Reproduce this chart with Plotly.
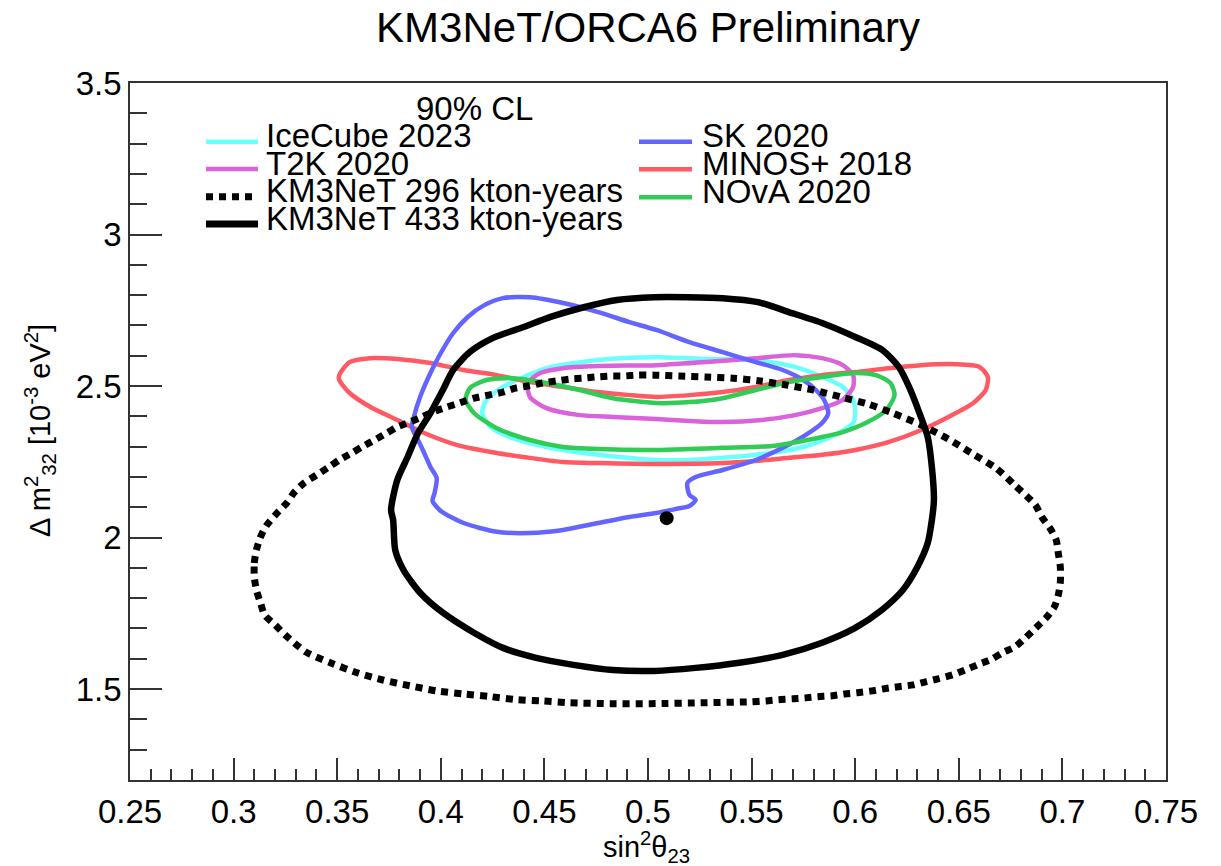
import plotly.graph_objects as go

# ---------------- data (sin^2 theta23, Delta m^2_32 [1e-3 eV^2]) ----------------
icecube_x = [0.420, 0.422, 0.430, 0.440, 0.451, 0.476, 0.504, 0.528, 0.552, 0.571, 0.584, 0.594, 0.599, 0.600,
             0.599, 0.592, 0.581, 0.568, 0.552, 0.536, 0.520, 0.504, 0.476, 0.451, 0.433, 0.424, 0.420]
icecube_y = [2.411, 2.454, 2.497, 2.530, 2.559, 2.586, 2.595, 2.589, 2.586, 2.563, 2.530, 2.497, 2.454, 2.411,
             2.378, 2.345, 2.312, 2.289, 2.273, 2.263, 2.256, 2.256, 2.273, 2.299, 2.332, 2.365, 2.411]

t2k_x = [0.442, 0.448, 0.459, 0.476, 0.504, 0.528, 0.552, 0.571, 0.584, 0.594, 0.599, 0.599, 0.594, 0.584,
         0.571, 0.555, 0.536, 0.520, 0.504, 0.483, 0.467, 0.451, 0.443, 0.442]
t2k_y = [2.510, 2.543, 2.559, 2.566, 2.569, 2.579, 2.592, 2.602, 2.592, 2.569, 2.536, 2.497, 2.454, 2.427,
         2.404, 2.388, 2.381, 2.385, 2.391, 2.398, 2.404, 2.427, 2.464, 2.510]

sk_x = [0.430, 0.443, 0.459, 0.476, 0.491, 0.504, 0.520, 0.536, 0.552, 0.565, 0.575, 0.581, 0.585, 0.587,
        0.584, 0.576, 0.565, 0.552, 0.536, 0.523, 0.519, 0.520, 0.523, 0.520, 0.513, 0.504, 0.491, 0.476,
        0.459, 0.443, 0.427, 0.411, 0.400, 0.396, 0.397, 0.398, 0.395, 0.392, 0.389, 0.386, 0.387, 0.390,
        0.395, 0.400, 0.406, 0.413, 0.421, 0.430]
sk_y = [2.790, 2.793, 2.774, 2.744, 2.711, 2.685, 2.645, 2.612, 2.579, 2.553, 2.520, 2.487, 2.454, 2.411,
        2.378, 2.338, 2.296, 2.256, 2.223, 2.200, 2.180, 2.141, 2.124, 2.104, 2.094, 2.081, 2.068, 2.048,
        2.025, 2.015, 2.019, 2.048, 2.088, 2.121, 2.147, 2.197, 2.233, 2.279, 2.322, 2.365, 2.398, 2.464,
        2.543, 2.609, 2.675, 2.728, 2.767, 2.790]

minos_x = [0.351, 0.356, 0.366, 0.379, 0.395, 0.411, 0.427, 0.443, 0.459, 0.476, 0.491, 0.504, 0.520, 0.536,
           0.552, 0.568, 0.584, 0.600, 0.616, 0.632, 0.648, 0.660, 0.664, 0.663, 0.657, 0.645, 0.632, 0.616,
           0.600, 0.584, 0.568, 0.552, 0.536, 0.504, 0.476, 0.459, 0.443, 0.427, 0.408, 0.392, 0.379, 0.366,
           0.356, 0.351, 0.351]
minos_y = [2.536, 2.579, 2.592, 2.589, 2.576, 2.553, 2.536, 2.513, 2.497, 2.480, 2.470, 2.464, 2.470, 2.480,
           2.497, 2.520, 2.536, 2.546, 2.559, 2.569, 2.572, 2.563, 2.530, 2.487, 2.444, 2.398, 2.355, 2.315,
           2.289, 2.273, 2.263, 2.253, 2.246, 2.243, 2.246, 2.249, 2.263, 2.279, 2.305, 2.345, 2.388, 2.431,
           2.477, 2.520, 2.536]

nova_x = [0.412, 0.414, 0.422, 0.435, 0.451, 0.467, 0.483, 0.504, 0.520, 0.536, 0.552, 0.568, 0.584, 0.600,
          0.610, 0.617, 0.619, 0.615, 0.606, 0.594, 0.577, 0.560, 0.536, 0.520, 0.504, 0.476, 0.459, 0.443,
          0.427, 0.416, 0.412]
nova_y = [2.454, 2.493, 2.520, 2.526, 2.510, 2.487, 2.460, 2.444, 2.447, 2.460, 2.487, 2.513, 2.530, 2.543,
          2.536, 2.510, 2.470, 2.421, 2.381, 2.348, 2.322, 2.302, 2.296, 2.292, 2.289, 2.292, 2.299, 2.322,
          2.361, 2.411, 2.454]

km3_296_x = [0.310, 0.310, 0.311, 0.313, 0.316, 0.321, 0.326, 0.329, 0.334, 0.340, 0.346, 0.351, 0.357, 0.362,
             0.368, 0.374, 0.379, 0.385, 0.391, 0.396, 0.403, 0.409, 0.416, 0.423, 0.430, 0.436, 0.442, 0.449,
             0.456, 0.462, 0.469, 0.475, 0.482, 0.488, 0.495, 0.503, 0.515, 0.528, 0.541, 0.554, 0.567, 0.580,
             0.593, 0.606, 0.618, 0.632, 0.645, 0.656, 0.668, 0.677, 0.687, 0.690, 0.694, 0.697, 0.698, 0.699,
             0.699, 0.698, 0.696, 0.692, 0.687, 0.682, 0.677, 0.671, 0.666, 0.659, 0.653, 0.647, 0.640, 0.634,
             0.628, 0.621, 0.614, 0.608, 0.601, 0.595, 0.589, 0.582, 0.576, 0.570, 0.563, 0.557, 0.550, 0.528,
             0.501, 0.482, 0.462, 0.449, 0.437, 0.424, 0.411, 0.398, 0.385, 0.372, 0.360, 0.347, 0.335, 0.325,
             0.320, 0.315, 0.313, 0.311, 0.310]
km3_296_y = [1.870, 1.916, 1.959, 2.002, 2.041, 2.081, 2.117, 2.147, 2.180, 2.206, 2.233, 2.256, 2.279, 2.299,
             2.322, 2.345, 2.365, 2.381, 2.398, 2.414, 2.431, 2.444, 2.460, 2.470, 2.480, 2.493, 2.500, 2.510,
             2.517, 2.523, 2.526, 2.530, 2.533, 2.533, 2.536, 2.536, 2.533, 2.530, 2.526, 2.517, 2.503, 2.487,
             2.464, 2.441, 2.411, 2.371, 2.325, 2.279, 2.229, 2.173, 2.107, 2.068, 2.031, 1.992, 1.949, 1.903,
             1.853, 1.810, 1.770, 1.734, 1.701, 1.668, 1.639, 1.620, 1.599, 1.580, 1.563, 1.547, 1.534, 1.524,
             1.514, 1.508, 1.501, 1.494, 1.488, 1.484, 1.478, 1.475, 1.471, 1.468, 1.465, 1.461, 1.458, 1.455,
             1.452, 1.452, 1.455, 1.461, 1.465, 1.475, 1.484, 1.494, 1.511, 1.530, 1.553, 1.586, 1.622, 1.678,
             1.712, 1.744, 1.784, 1.827, 1.870]

km3_433_x = [0.377, 0.376, 0.379, 0.384, 0.389, 0.395, 0.401, 0.406, 0.414, 0.425, 0.440, 0.453, 0.469, 0.485,
             0.503, 0.519, 0.536, 0.553, 0.568, 0.584, 0.600, 0.613, 0.621, 0.626, 0.631, 0.635, 0.637, 0.638,
             0.637, 0.635, 0.630, 0.623, 0.613, 0.600, 0.584, 0.565, 0.544, 0.523, 0.503, 0.483, 0.464, 0.446,
             0.430, 0.416, 0.401, 0.390, 0.382, 0.378, 0.377]
km3_433_y = [2.058, 2.091, 2.190, 2.266, 2.345, 2.411, 2.487, 2.553, 2.612, 2.658, 2.695, 2.728, 2.760, 2.784,
             2.793, 2.793, 2.790, 2.777, 2.744, 2.708, 2.662, 2.619, 2.563, 2.497, 2.411, 2.332, 2.233, 2.124,
             2.058, 1.982, 1.903, 1.827, 1.762, 1.702, 1.653, 1.613, 1.587, 1.570, 1.560, 1.563, 1.580, 1.603,
             1.636, 1.686, 1.752, 1.818, 1.893, 1.959, 2.058]

best_fit_x = [0.509]
best_fit_y = [2.064]

legend_names_left = ["IceCube 2023", "T2K 2020", "KM3NeT 296 kton-years", "KM3NeT 433 kton-years"]
legend_names_right = ["SK 2020", "MINOS+ 2018", "NOvA 2020"]
x_ticks = [0.25, 0.3, 0.35, 0.4, 0.45, 0.5, 0.55, 0.6, 0.65, 0.7, 0.75]
y_ticks = [1.5, 2, 2.5, 3, 3.5]

# ---------------- style ----------------
C_ICE = "#6CFFFF"
C_T2K = "#DA62DA"
C_SK = "#6464FF"
C_MINOS = "#FF5A64"
C_NOVA = "#30CC55"
FONT = "Liberation Sans, Arial, sans-serif"
W_COL = 4.5
LEG_FS = 33
TICK_FS = 33

fig = go.Figure()

def contour(x, y, color, width, dash="solid"):
    fig.add_trace(go.Scatter(x=x, y=y, mode="lines",
                             line=dict(color=color, width=width, dash=dash, shape="spline", smoothing=0.7),
                             showlegend=False, hoverinfo="skip"))

contour(icecube_x, icecube_y, C_ICE, W_COL)
contour(t2k_x, t2k_y, C_T2K, W_COL)
contour(minos_x, minos_y, C_MINOS, W_COL)
contour(sk_x, sk_y, C_SK, W_COL)
contour(nova_x, nova_y, C_NOVA, W_COL)
contour(km3_296_x, km3_296_y, "black", 7, "7px,6px")
contour(km3_433_x, km3_433_y, "black", 6.5)

fig.add_trace(go.Scatter(x=best_fit_x, y=best_fit_y, mode="markers",
                         marker=dict(color="black", size=14), showlegend=False, hoverinfo="skip"))

# ---------------- manual legend (ROOT style) ----------------
L, R, T, B = 130, 55, 83, 86
PW, PH = 1221 - L - R, 866 - T - B

def px2paper(px, py):
    return (px - L) / PW, (866 - B - py) / PH

left_styles = [(C_ICE, "solid", W_COL), (C_T2K, "solid", W_COL), ("black", "7px,6px", 7), ("black", "solid", 7)]
right_styles = [(C_SK, "solid", W_COL), (C_MINOS, "solid", W_COL), (C_NOVA, "solid", W_COL)]
left_rows = [141.7, 169.0, 196.7, 224.0]
right_rows = [141.7, 169.3, 197.3]

def legend_entry(name, style, row_py, x0px, x1px, txtpx):
    color, dash, w = style
    xa, ya = px2paper(x0px, row_py)
    xb, _ = px2paper(x1px, row_py)
    fig.add_shape(type="line", xref="paper", yref="paper", x0=xa, x1=xb, y0=ya, y1=ya,
                  line=dict(color=color, width=w, dash=dash))
    xt, yt = px2paper(txtpx, row_py - 6)
    fig.add_annotation(text=name, xref="paper", yref="paper", x=xt, y=yt, xanchor="left", yanchor="middle",
                       showarrow=False, font=dict(family=FONT, size=LEG_FS, color="black"))

for n, s, r in zip(legend_names_left, left_styles, left_rows):
    legend_entry(n, s, r, 206, 258, 264)
for n, s, r in zip(legend_names_right, right_styles, right_rows):
    legend_entry(n, s, r, 639, 692, 700)

hx, hy = px2paper(474, 108)
fig.add_annotation(text="90% CL", xref="paper", yref="paper", x=hx, y=hy, xanchor="center", yanchor="middle",
                   showarrow=False, font=dict(family=FONT, size=LEG_FS, color="black"))

# y-axis title placed like ROOT (centred on the axis, far left)
ytx, yty = px2paper(40, 431)
fig.add_annotation(text="Δ m<sup>2</sup><sub>32</sub> [10<sup>-3</sup> eV<sup>2</sup>]", xref="paper", yref="paper",
                   x=ytx, y=yty, xanchor="center", yanchor="middle", textangle=-90, showarrow=False,
                   font=dict(family=FONT, size=29, color="black"))
# x-axis title
xtx, xty = px2paper(646, 847)
fig.add_annotation(text="sin<sup>2</sup>θ<sub>23</sub>", xref="paper", yref="paper",
                   x=xtx, y=xty, xanchor="center", yanchor="middle", showarrow=False,
                   font=dict(family=FONT, size=29, color="black"))

# ---------------- layout ----------------
fig.update_layout(
    width=1221, height=866,
    margin=dict(l=L, r=R, t=T, b=B, autoexpand=False),
    paper_bgcolor="white", plot_bgcolor="white",
    font=dict(family=FONT, color="black"),
    title=dict(text="KM3NeT/ORCA6 Preliminary", x=0.5, xref="paper", y=1 - 27 / 866, yanchor="middle",
               font=dict(family=FONT, size=42, color="black")),
    xaxis=dict(range=[0.25, 0.75], tickvals=x_ticks, ticktext=[str(v) for v in x_ticks],
               ticks="inside", ticklen=22, tickwidth=1.5, tickcolor="#333",
               minor=dict(dtick=0.01, tick0=0.25, ticks="inside", ticklen=11, tickwidth=1.5, tickcolor="#333"),
               showline=True, linecolor="#333", linewidth=1.5, mirror=True, showgrid=False, zeroline=False,
               tickfont=dict(family=FONT, size=TICK_FS), ticklabelstandoff=2, automargin=False),
    yaxis=dict(range=[1.2, 3.5], tickvals=y_ticks, ticktext=[f"{v:g}" for v in y_ticks],
               ticks="inside", ticklen=32, tickwidth=1.5, tickcolor="#333",
               minor=dict(dtick=0.1, tick0=1.2, ticks="inside", ticklen=17, tickwidth=1.5, tickcolor="#333"),
               showline=True, linecolor="#333", linewidth=1.5, mirror=True, showgrid=False, zeroline=False,
               tickfont=dict(family=FONT, size=TICK_FS), ticklabelstandoff=0, automargin=False),
)

fig.write_html("out.html", config={"displayModeBar": False},
               post_script="document.body.style.margin='0';document.body.style.padding='0';")
